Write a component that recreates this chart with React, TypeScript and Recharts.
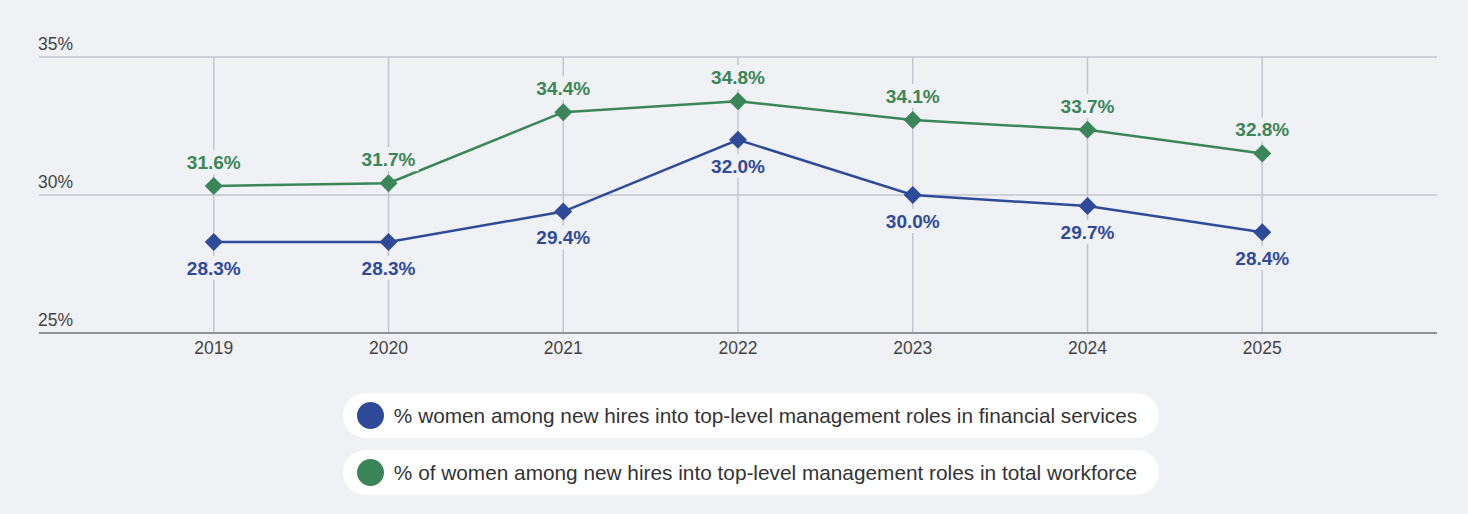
import { LineChart, Line, XAxis, YAxis, CartesianGrid, LabelList, ReferenceLine } from 'recharts';

document.body.style.margin = '0';
document.body.style.background = '#f0f1f4';

const years = [2019, 2020, 2021, 2022, 2023, 2024, 2025];
// plotted positions
const financialValues = [28.3, 28.3, 29.4, 32.0, 30.0, 29.6, 28.65];
const workforceValues = [30.33, 30.43, 33.0, 33.4, 32.72, 32.36, 31.5];
// printed labels
const financialLabels = ['28.3%', '28.3%', '29.4%', '32.0%', '30.0%', '29.7%', '28.4%'];
const workforceLabels = ['31.6%', '31.7%', '34.4%', '34.8%', '34.1%', '33.7%', '32.8%'];
const yTicks = [25, 30, 35];

const BG = '#f0f1f4';
const BLUE = '#2f4a98';
const GREEN = '#3a8658';
const GRID = '#c3c6cf';
const FONT = '"Liberation Sans", Arial, Helvetica, sans-serif';

const data = years.map((year, i) => ({
  year,
  financial: financialValues[i],
  workforce: workforceValues[i],
  financialLabel: financialLabels[i],
  workforceLabel: workforceLabels[i],
}));

const legendItems = [
  { color: BLUE, text: '% women among new hires into top-level management roles in financial services' },
  { color: GREEN, text: '% of women among new hires into top-level management roles in total workforce' },
];

const Diamond = (color: string) => (props: any) => {
  const { cx, cy, index } = props;
  if (cx == null || cy == null) return null;
  const r = 9;
  return (
    <path
      key={index}
      d={`M${cx},${cy - r} L${cx + r},${cy} L${cx},${cy + r} L${cx - r},${cy} Z`}
      fill={color}
    />
  );
};

// value label with a small background patch so the grid line doesn't run through it
const pointLabel = (color: string, dy: number) => (props: any) => {
  const vb = props.viewBox || {};
  const x = props.x ?? vb.x;
  const y = props.y ?? vb.y;
  if (x == null || y == null) return null;
  const cy = y + dy;
  return (
    <g key={props.index}>
      <rect x={x - 30} y={cy - 12} width={60} height={24} fill={BG} />
      <text
        x={x}
        y={cy}
        dy="0.36em"
        textAnchor="middle"
        fill={color}
        fontSize={19}
        fontWeight="bold"
        fontFamily={FONT}
      >
        {props.value}
      </text>
    </g>
  );
};

const renderYTick = (props: any) => {
  const { y, payload } = props;
  return (
    <text x={38} y={y - 7} fill="#444" fontSize={17.5} fontFamily={FONT} textAnchor="start">
      {payload.value}%
    </text>
  );
};

const App = () => {
  return (
    <div style={{ width: 1468, height: 514, background: BG, position: 'relative', fontFamily: FONT }}>
      <LineChart
        width={1468}
        height={370}
        data={data}
        margin={{ top: 57, right: 31, bottom: 7, left: 29 }}
      >
        <CartesianGrid stroke={GRID} strokeWidth={1.5} vertical={false} />
        {years.map((y) => (
          <ReferenceLine key={y} x={y} stroke={GRID} strokeWidth={1.5} />
        ))}
        <XAxis
          dataKey="year"
          type="number"
          domain={[2018, 2026]}
          ticks={years}
          height={30}
          tickLine={false}
          axisLine={{ stroke: '#555', strokeWidth: 1.2 }}
          tick={{ fill: '#444', fontSize: 17.5, fontFamily: FONT }}
          tickMargin={3}
        />
        <YAxis
          domain={[25, 35]}
          ticks={yTicks}
          width={10}
          axisLine={false}
          tickLine={false}
          tick={renderYTick}
        />
        <Line
          dataKey="workforce"
          stroke={GREEN}
          strokeWidth={2.5}
          dot={Diamond(GREEN)}
          activeDot={false}
          isAnimationActive={false}
        >
          <LabelList dataKey="workforceLabel" content={pointLabel(GREEN, -24)} />
        </Line>
        <Line
          dataKey="financial"
          stroke={BLUE}
          strokeWidth={2.5}
          dot={Diamond(BLUE)}
          activeDot={false}
          isAnimationActive={false}
        >
          <LabelList dataKey="financialLabel" content={pointLabel(BLUE, 26)} />
        </Line>
      </LineChart>
      <div
        style={{
          position: 'absolute',
          top: 393,
          left: 0,
          width: 1502,
          display: 'flex',
          flexDirection: 'column',
          alignItems: 'center',
          gap: 12,
        }}
      >
        {legendItems.map((item) => (
          <div
            key={item.text}
            style={{
              display: 'flex',
              alignItems: 'center',
              background: '#fff',
              borderRadius: 23,
              height: 45,
              padding: '0 22px 0 14px',
            }}
          >
            <span
              style={{
                width: 27,
                height: 27,
                borderRadius: '50%',
                background: item.color,
                display: 'inline-block',
                marginRight: 10,
              }}
            />
            <span style={{ fontSize: 20.8, color: '#333' }}>{item.text}</span>
          </div>
        ))}
      </div>
    </div>
  );
};

export default App;
